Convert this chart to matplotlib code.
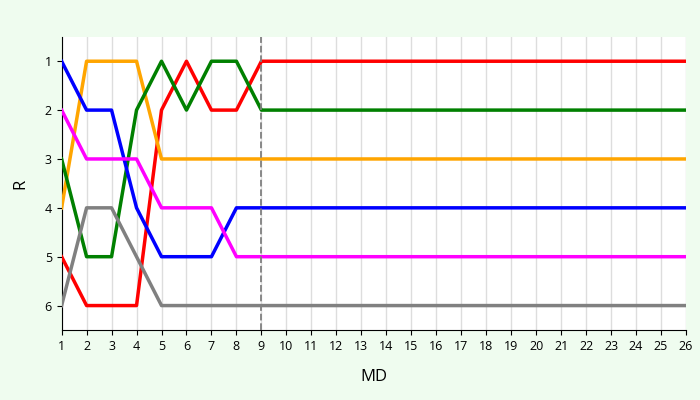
import matplotlib
matplotlib.use("Agg")
import matplotlib.pyplot as plt

md = list(range(1, 27))
tail = 26 - 9
red = [5, 6, 6, 6, 2, 1, 2, 2, 1] + [1] * tail
orange = [4, 1, 1, 1, 3, 3, 3, 3, 3] + [3] * tail
green = [3, 5, 5, 2, 1, 2, 1, 1, 2] + [2] * tail
blue = [1, 2, 2, 4, 5, 5, 5, 4, 4] + [4] * tail
magenta = [2, 3, 3, 3, 4, 4, 4, 5, 5] + [5] * tail
gray = [6, 4, 4, 5, 6, 6, 6, 6, 6] + [6] * tail

series = [(red, "red"), (orange, "orange"), (green, "green"),
          (blue, "blue"), (magenta, "magenta"), (gray, "gray")]

plt.rcParams["font.family"] = ["Open Sans", "DejaVu Sans"]
fig = plt.figure(figsize=(7, 4), dpi=100, facecolor="#effcef")
ax = fig.add_axes([0.088, 0.175, 0.892, 0.733])
for vals, c in series:
    ax.plot(md, vals, color=c, lw=2.5, zorder=3)
ax.axvline(9, color="gray", ls="--", lw=1.3, zorder=4)
ax.set_xlim(1, 26)
ax.set_ylim(6.5, 0.5)
ax.set_xticks(md)
ax.set_yticks(range(1, 7))
ax.grid(axis="x", color="#dddddd", lw=1)
for s in ["top", "right"]:
    ax.spines[s].set_visible(False)
ax.tick_params(labelsize=9)
ax.set_xlabel("MD", fontsize=12, labelpad=12)
ax.set_ylabel("R", fontsize=12, labelpad=12)
fig.savefig("out.png", dpi=100, facecolor=fig.get_facecolor())
